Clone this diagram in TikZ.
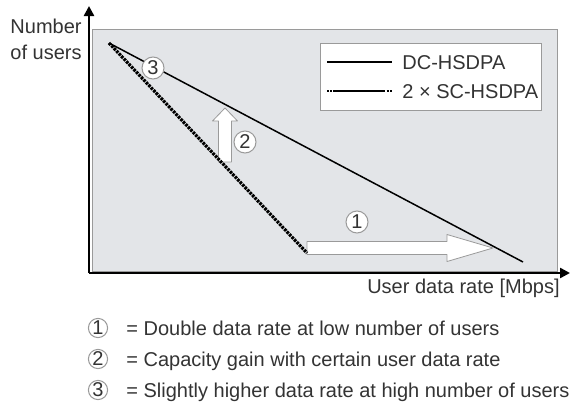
\documentclass[tikz,border=0pt]{standalone}
\usepackage{fontspec}
\setmainfont{Liberation Sans}
\usetikzlibrary{arrows.meta,positioning}
\definecolor{panelgray}{HTML}{E3E5E8}
\definecolor{txtgray}{HTML}{333333}
\definecolor{ringgray}{HTML}{9A9A9A}

\begin{document}
\begin{tikzpicture}[x=0.5pt,y=-0.5pt,
        lbl/.style={font=\fontsize{10}{13}\selectfont, text=txtgray, inner sep=0pt},
        num/.style={circle, draw=ringgray, fill=white, line width=0.5pt,
            minimum size=11pt, inner sep=0pt,
            font=\fontsize{10}{12}\selectfont, text=txtgray},
        keynum/.style={num, minimum size=9.6pt},
        axis/.style={line width=1.2pt, -{Triangle[width=5pt,length=5pt]}},
        dc/.style={line width=0.75pt},
        sc/.style={line width=1.6pt, dash pattern=on 1.3pt off 0.5pt},
        hollow/.style={draw=ringgray, fill=white, line width=0.4pt, line join=round}]

    \useasboundingbox (0,0) rectangle (572,407);

    \filldraw[fill=panelgray, draw=ringgray, line width=0.5pt] (92,29) rectangle (557,271);

    \coordinate (o) at (89,273);
    \coordinate (ytip) at (89,6);
    \coordinate (xtip) at (570,273);
    \draw[axis] (o) -- (ytip);
    \draw[axis] (o) -- (xtip);

    \node[lbl, align=right, anchor=base east] (ylab) at (82,59) {Number\\of users};
    \node[lbl, anchor=base east] (xlab) at (560,293) {User data rate [Mbps]};

    \node[draw=ringgray, fill=white, line width=0.5pt, minimum width=110.5pt,
        minimum height=33.5pt, inner sep=0pt, anchor=north west] (key) at (320,43) {};
    \coordinate (dca) at (327,62);
    \coordinate (dcb) at (392,62);
    \coordinate (sca) at (327,91);
    \coordinate (scb) at (392,91);
    \draw[line width=1.2pt] (dca) -- (dcb);
    \draw[line width=1.3pt, dash pattern=on 1pt off 0.6pt on 1pt off 0.6pt on 26pt off 0.6pt on 1pt off 0.6pt on 1pt] (sca) -- (scb);
    \node[lbl, anchor=base west] (dctxt) at (402,69) {DC-HSDPA};
    \node[lbl, anchor=base west] (sctxt) at (402,98) {2 × SC-HSDPA};

    \filldraw[hollow] (307,241.5) -- (447,241.5) -- (447,234.5) -- (493,248)
        -- (447,261.5) -- (447,254.5) -- (307,254.5) -- cycle;
    \filldraw[hollow] (218.5,162) -- (218.5,121) -- (212.5,121) -- (225,108)
        -- (237.5,121) -- (231.5,121) -- (231.5,162) -- cycle;

    \coordinate (start) at (109,43);
    \coordinate (dcend) at (523,262);
    \coordinate (scend) at (307,253);
    \draw[dc] (start) -- (dcend);
    \draw[sc] (start) -- (scend);

    \node[num] (n3) at (153,68) {3};
    \node[num] (n2) at (245,142) {2};
    \node[num] (n1) at (357,222) {1};

    \node[keynum] (k1) at (98,328) {1};
    \node[keynum] (k2) at (98,359) {2};
    \node[keynum] (k3) at (98,390) {3};
    \node[lbl, anchor=base west] (t1) at (126,335) {= Double data rate at low number of users};
    \node[lbl, anchor=base west] (t2) at (126,366) {= Capacity gain with certain user data rate};
    \node[lbl, anchor=base west] (t3) at (126,397) {= Slightly higher data rate at high number of users};
\end{tikzpicture}
\end{document}
